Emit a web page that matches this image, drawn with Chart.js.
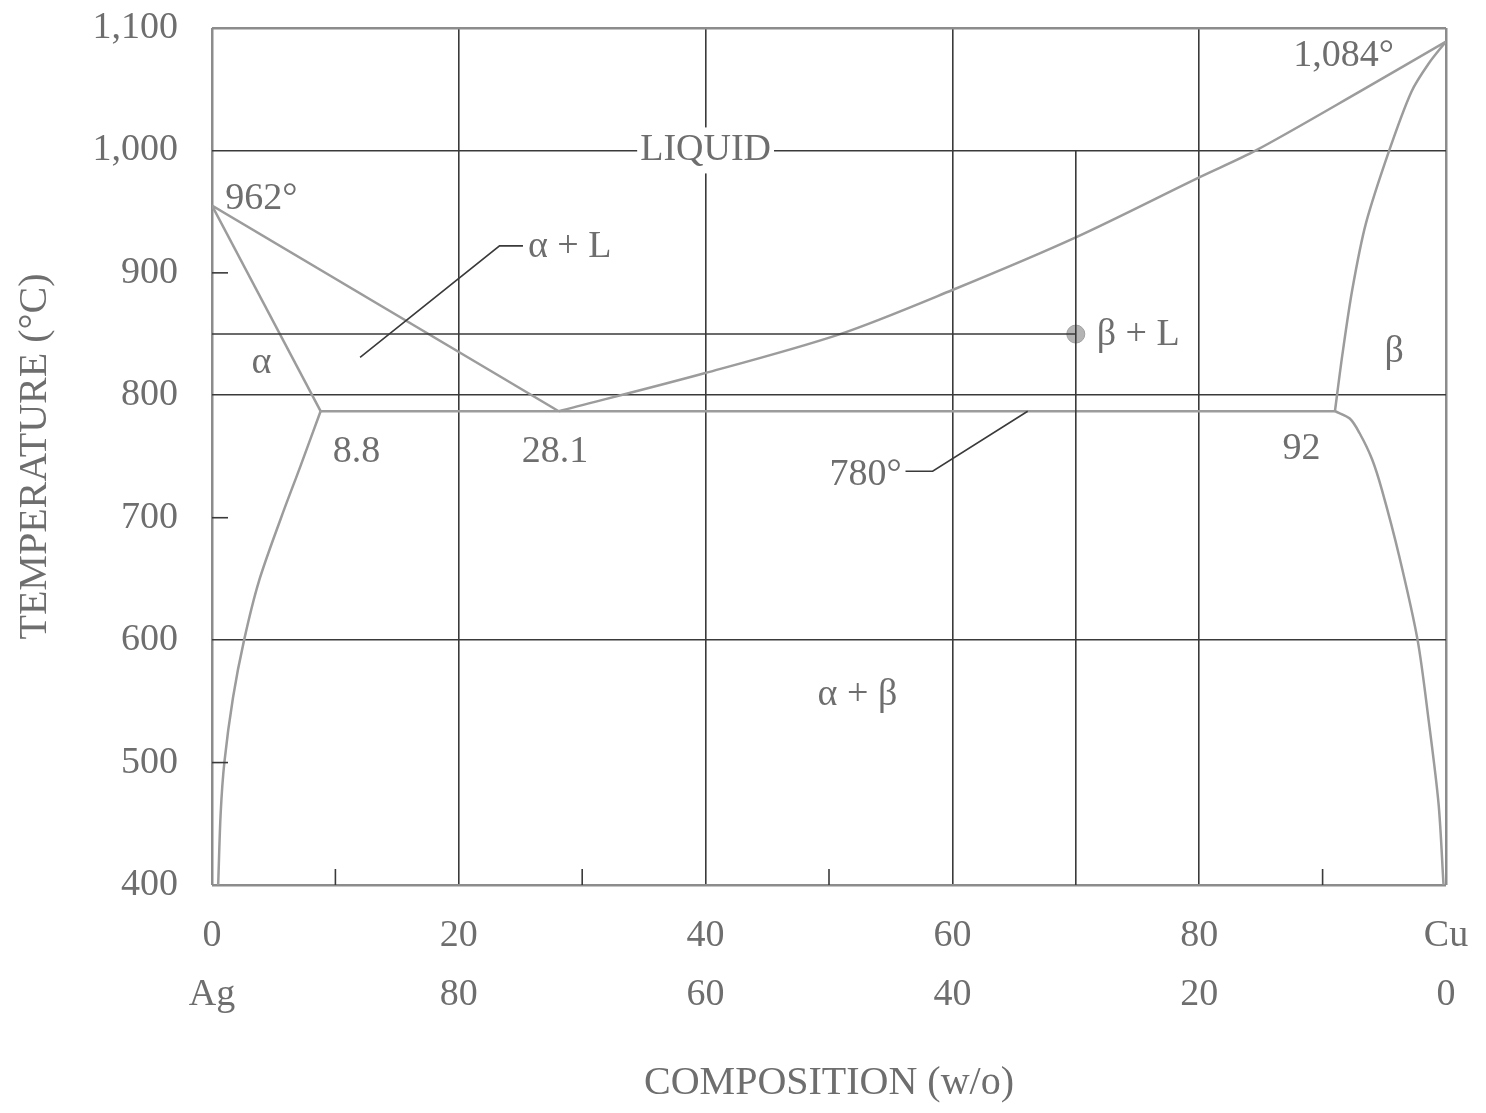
<!DOCTYPE html>
<html>
<head>
<meta charset="utf-8">
<script src="https://cdn.jsdelivr.net/npm/chart.js@4.4.1/dist/chart.umd.min.js"></script>
<style>
  html, body { margin: 0; padding: 0; background: #fff; }
  #wrap { width: 1486px; height: 1113px; }
</style>
</head>
<body>
<div id="wrap"><canvas id="phaseChart"></canvas></div>
<script>
// Ag-Cu phase diagram (wt% Cu, deg C)
const compTicks = [0, 20, 40, 60, 80, 100];
const cuLabels = ["0", "20", "40", "60", "80", "Cu"];
const agLabels = ["Ag", "80", "60", "40", "20", "0"];
const fullGridComps = [20, 40, 60, 80];
const fullGridTemps = [1000, 800, 600];
const minorComps = [10, 30, 50, 90];
const minorTemps = [900, 700, 500];

const liquidusAg = [{ x: 0, y: 955 }, { x: 28.1, y: 787 }];
const solidusAlpha = [{ x: 0, y: 955 }, { x: 8.8, y: 787 }];
const solvusAlpha = [
  { x: 8.8, y: 787 }, { x: 7.2, y: 743 }, { x: 5.6, y: 700 }, { x: 3.8, y: 648 },
  { x: 2.6, y: 600 }, { x: 1.7, y: 553 }, { x: 1.0, y: 500 }, { x: 0.7, y: 458 }, { x: 0.5, y: 400 },
];
const eutectic = [{ x: 8.8, y: 787 }, { x: 91, y: 787 }];
const liquidusCu = [
  { x: 28.1, y: 787 }, { x: 39.9, y: 818 }, { x: 50.9, y: 850 }, { x: 60, y: 886 },
  { x: 70, y: 929 }, { x: 80, y: 978 }, { x: 84.6, y: 1000 }, { x: 93, y: 1048 }, { x: 100, y: 1089 },
];
const solidusBeta = [
  { x: 91, y: 787 }, { x: 91.6, y: 833 }, { x: 92.4, y: 886 }, { x: 93.5, y: 940 },
  { x: 95.4, y: 1000 }, { x: 97.2, y: 1048 }, { x: 98.6, y: 1071 }, { x: 100, y: 1089 },
];
const solvusBeta = [
  { x: 91, y: 787 }, { x: 92.2, y: 781 }, { x: 93, y: 769 }, { x: 94, y: 748 }, { x: 94.8, y: 723 },
  { x: 96.2, y: 669 }, { x: 97.7, y: 600 }, { x: 98.6, y: 534 }, { x: 99.4, y: 466 }, { x: 99.8, y: 400 },
];
const alphaLPointer = [{ x: 12, y: 831 }, { x: 23.3, y: 922 }, { x: 25.2, y: 922 }];
const eutecticPointer = [{ x: 56.2, y: 738 }, { x: 58.4, y: 738 }, { x: 66.1, y: 787 }];
const markerPoint = [{ x: 70, y: 850 }];
const markerH = [{ x: 0, y: 850 }, { x: 70, y: 850 }];
const markerV = [{ x: 70, y: 1000 }, { x: 70, y: 400 }];

const regionLabels = [
  { text: "962°", x: 4.0, y: 960 },
  { text: "α", x: 4.0, y: 826 },
  { text: "8.8", x: 11.7, y: 754 },
  { text: "28.1", x: 27.8, y: 754 },
  { text: "LIQUID", x: 40, y: 1000, box: true },
  { text: "α + L", x: 25.6, y: 921, align: "left" },
  { text: "β + L", x: 71.7, y: 849, align: "left" },
  { text: "β", x: 95.8, y: 835 },
  { text: "1,084°", x: 91.7, y: 1077 },
  { text: "780°", x: 55.9, y: 735, align: "right" },
  { text: "92", x: 88.3, y: 756 },
  { text: "α + β", x: 52.3, y: 555 },
];

const FONT = '"Liberation Serif", "DejaVu Serif", serif';
const TEXT = "#6e6e6e";
const GRID = "#3a3a3a";
const EDGE = "#8c8c8c";
const CURVE = "#9c9c9c";
const CLEAR = "rgba(0,0,0,0)";

const annotate = {
  id: "annotate",
  afterDatasetsDraw(chart) {
    const { ctx, chartArea, scales } = chart;
    const sx = scales.x, sy = scales.y;
    ctx.save();
    ctx.strokeStyle = GRID;
    ctx.lineWidth = 1.6;
    minorTemps.forEach((t) => {
      const py = sy.getPixelForValue(t);
      ctx.beginPath();
      ctx.moveTo(chartArea.left, py);
      ctx.lineTo(chartArea.left + 16, py);
      ctx.stroke();
    });
    minorComps.forEach((c) => {
      const px = sx.getPixelForValue(c);
      ctx.beginPath();
      ctx.moveTo(px, chartArea.bottom);
      ctx.lineTo(px, chartArea.bottom - 16);
      ctx.stroke();
    });
    ctx.font = "38px " + FONT;
    ctx.textBaseline = "middle";
    regionLabels.forEach((l) => {
      const px = sx.getPixelForValue(l.x);
      const py = sy.getPixelForValue(l.y);
      ctx.textAlign = l.align || "center";
      if (l.box) {
        const w = ctx.measureText(l.text).width;
        ctx.fillStyle = "#fff";
        ctx.fillRect(px - w / 2 - 3, py - 23, w + 6, 46);
      }
      ctx.fillStyle = TEXT;
      ctx.fillText(l.text, px, py);
    });
    ctx.restore();
  },
};

const line = (data, color, width, tension) => ({
  data,
  showLine: true,
  borderColor: color,
  borderWidth: width,
  pointRadius: 0,
  tension: tension || 0,
  fill: false,
});

// the gap between axis and tick labels comes from (invisible) tick marks,
// so the label padding does not push the plot area in
const gridStyle = (full, edges, gap) => ({
  drawTicks: true,
  tickLength: gap,
  tickColor: CLEAR,
  color: (c) => (edges.includes(c.tick.value) ? EDGE : full.includes(c.tick.value) ? GRID : CLEAR),
  lineWidth: (c) => (edges.includes(c.tick.value) ? 2.5 : 1.6),
});

new Chart(document.getElementById("phaseChart"), {
  type: "scatter",
  data: {
    datasets: [
      line(markerH, GRID, 1.6),
      line(markerV, GRID, 1.6),
      line(alphaLPointer, GRID, 1.6),
      line(eutecticPointer, GRID, 1.6),
      line(liquidusAg, CURVE, 2.5),
      line(solidusAlpha, CURVE, 2.5),
      line(solvusAlpha, CURVE, 2.5, 0.3),
      line(eutectic, CURVE, 2.5),
      line(liquidusCu, CURVE, 2.5, 0.3),
      line(solidusBeta, CURVE, 2.5, 0.3),
      line(solvusBeta, CURVE, 2.5, 0.3),
      {
        data: markerPoint,
        pointRadius: 9,
        backgroundColor: "#b4b4b4",
        borderColor: "#a0a0a0",
        borderWidth: 1,
      },
    ],
  },
  options: {
    responsive: true,
    maintainAspectRatio: false,
    animation: false,
    layout: { padding: { left: 0, right: 40, top: 28, bottom: 0 } },
    plugins: { legend: { display: false }, tooltip: { enabled: false } },
    scales: {
      x: {
        type: "linear",
        min: 0,
        max: 100,
        border: { display: false },
        grid: gridStyle(fullGridComps, [0, 100], 22),
        ticks: {
          stepSize: 20,
          padding: 0,
          autoSkip: false,
          maxRotation: 0,
          color: TEXT,
          font: { family: FONT, size: 38, lineHeight: 1.55 },
          callback: (v) => {
            const i = compTicks.indexOf(v);
            return i < 0 ? "" : [cuLabels[i], agLabels[i]];
          },
        },
        title: {
          display: true,
          text: "COMPOSITION (w/o)",
          color: TEXT,
          font: { family: FONT, size: 40 },
          padding: { top: 0, bottom: 6 },
        },
        afterFit: (s) => { s.height = 228; },
      },
      y: {
        type: "linear",
        min: 400,
        max: 1100,
        border: { display: false },
        grid: gridStyle(fullGridTemps, [400, 1100], 34),
        ticks: {
          stepSize: 100,
          padding: 0,
          color: TEXT,
          font: { family: FONT, size: 38 },
          callback: (v) => v.toLocaleString("en-US"),
        },
        title: {
          display: true,
          text: "TEMPERATURE (°C)",
          color: TEXT,
          font: { family: FONT, size: 40 },
          padding: { top: 11, bottom: 0 },
        },
        afterFit: (s) => { s.width = 212; },
      },
    },
  },
  plugins: [annotate],
});
</script>
